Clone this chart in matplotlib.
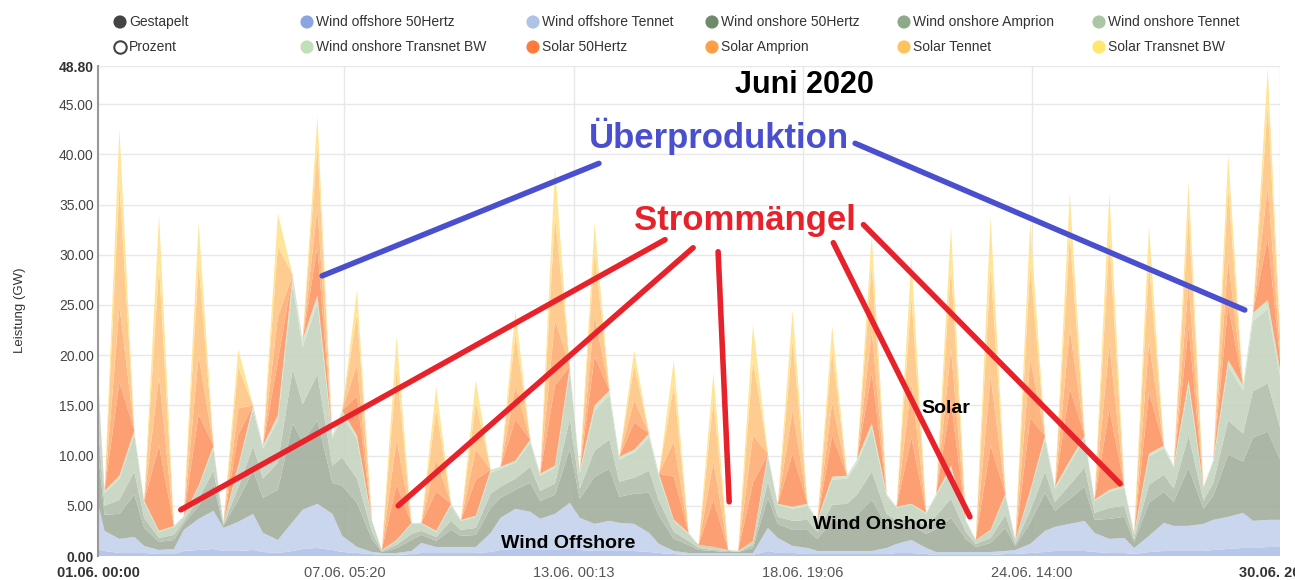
import matplotlib.pyplot as plt
import numpy as np

plt.rcParams['font.family'] = ['Liberation Sans', 'DejaVu Sans']

# sample times: 01.06. 00:00, then 04:00 / 13:00 / 22:00 for every day of June
hours = [0] + [24 * d + h for d in range(30) for h in (4, 13, 22)]

# wind (GW) at those times
wind_off_50hertz = [
    0.7,
    0.5, 0.3, 0.3, 0.3, 0.2, 0.2, 0.5, 0.6, 0.7, 0.5, 0.5, 0.6, 0.4, 0.3, 0.5,
    0.7, 0.8, 0.6, 0.4, 0.3, 0.2, 0.1, 0.1, 0.2, 0.3, 0.3, 0.3, 0.3, 0.3, 0.4,
    0.6, 0.7, 0.7, 0.6, 0.6, 0.8, 0.6, 0.5, 0.5, 0.5, 0.5, 0.4, 0.3, 0.2, 0.1,
    0.1, 0.1, 0.1, 0.1, 0.1, 0.5, 0.3, 0.3, 0.2, 0.2, 0.2, 0.2, 0.2, 0.2, 0.2,
    0.3, 0.3, 0.2, 0.1, 0.1, 0.1, 0.1, 0.1, 0.2, 0.2, 0.3, 0.4, 0.5, 0.5, 0.5,
    0.4, 0.3, 0.3, 0.2, 0.4, 0.5, 0.5, 0.5, 0.5, 0.6, 0.7, 0.8, 0.8, 0.9, 0.9]
wind_off_tennet = [
    4.5,
    2.0, 1.4, 1.6, 0.7, 0.4, 0.5, 2.1, 3.1, 3.8, 2.3, 2.9, 3.6, 1.9, 1.3, 2.9,
    3.9, 4.4, 3.6, 1.6, 0.6, 0.2, 0.2, 0.2, 0.3, 1.0, 0.6, 0.6, 0.6, 0.6, 1.9,
    3.2, 4.0, 3.7, 3.1, 3.6, 4.5, 3.2, 2.7, 3.0, 2.8, 2.7, 1.9, 0.9, 0.3, 0.2,
    0.2, 0.2, 0.2, 0.2, 0.2, 2.3, 1.5, 0.7, 0.6, 0.3, 0.3, 0.3, 0.3, 0.3, 0.6,
    0.9, 1.3, 0.6, 0.3, 0.3, 0.3, 0.3, 0.3, 0.3, 0.4, 0.9, 2.1, 2.4, 2.7, 3.0,
    1.9, 1.4, 1.5, 0.6, 1.6, 2.8, 2.5, 2.5, 2.7, 3.0, 3.2, 3.5, 2.7, 2.7, 2.7]
wind_on_50hertz = [
    5.1,
    1.6, 2.5, 4.2, 1.8, 0.8, 0.9, 0.6, 1.3, 2.6, 0.2, 2.2, 4.3, 3.5, 5.0, 9.8,
    6.8, 8.3, 3.1, 5.0, 4.4, 1.3, 0.1, 0.5, 1.1, 0.8, 0.6, 1.7, 1.1, 1.2, 2.5,
    2.0, 1.9, 2.9, 1.8, 1.9, 5.4, 1.9, 4.7, 5.2, 2.6, 3.0, 4.0, 2.8, 1.2, 0.8,
    0.3, 0.2, 0.1, 0.1, 0.5, 3.0, 1.4, 1.6, 1.8, 1.2, 3.0, 3.0, 3.6, 5.1, 2.2,
    1.5, 1.4, 1.4, 2.3, 3.4, 1.3, 0.5, 0.9, 2.3, 0.4, 2.1, 3.8, 1.6, 2.5, 3.4,
    1.3, 2.0, 2.1, 0.6, 3.3, 3.1, 2.4, 5.8, 1.5, 2.4, 6.2, 5.1, 8.3, 8.8, 5.4]
wind_on_amprion = [
    2.8,
    0.9, 1.4, 2.3, 1.0, 0.4, 0.5, 0.3, 0.7, 1.4, 0.1, 1.2, 2.4, 1.9, 2.7, 5.4,
    3.7, 4.6, 1.7, 2.8, 2.4, 0.7, 0.1, 0.3, 0.6, 0.4, 0.4, 0.9, 0.6, 0.7, 1.4,
    1.1, 1.1, 1.6, 1.0, 1.1, 3.0, 1.0, 2.6, 2.9, 1.5, 1.6, 2.2, 1.5, 0.7, 0.4,
    0.2, 0.1, 0.1, 0.0, 0.3, 1.6, 0.7, 0.9, 1.0, 0.7, 1.6, 1.7, 2.0, 2.8, 1.2,
    0.8, 0.8, 0.8, 1.3, 1.9, 0.7, 0.3, 0.5, 1.3, 0.2, 1.2, 2.1, 0.9, 1.4, 1.9,
    0.7, 1.1, 1.1, 0.3, 1.8, 1.7, 1.3, 3.2, 0.8, 1.3, 3.4, 2.8, 4.6, 4.8, 2.9]
wind_on_tennet = [
    4.4,
    1.3, 2.1, 3.7, 1.5, 0.6, 0.8, 0.4, 1.2, 2.2, 0.2, 2.0, 3.7, 3.0, 4.2, 8.4,
    5.7, 7.1, 2.7, 4.2, 3.9, 1.1, 0.1, 0.4, 1.0, 0.7, 0.5, 1.5, 0.9, 1.1, 2.1,
    1.8, 1.6, 2.4, 1.5, 1.6, 4.7, 1.6, 4.0, 4.4, 2.2, 2.5, 3.3, 2.4, 1.1, 0.7,
    0.3, 0.3, 0.1, 0.1, 0.4, 2.5, 1.2, 1.2, 1.4, 1.1, 2.5, 2.5, 3.1, 4.3, 1.8,
    1.3, 1.3, 1.2, 2.0, 3.0, 1.1, 0.4, 0.7, 1.9, 0.4, 1.8, 3.2, 1.3, 2.1, 2.9,
    1.2, 1.6, 1.8, 0.5, 2.8, 2.6, 2.1, 4.9, 1.3, 2.1, 5.4, 4.3, 7.0, 7.4, 4.6]
wind_on_transnetbw = [
    0.5,
    0.2, 0.3, 0.4, 0.2, 0.1, 0.1, 0.1, 0.1, 0.3, 0.0, 0.2, 0.4, 0.3, 0.5, 1.0,
    0.7, 0.8, 0.3, 0.5, 0.4, 0.1, 0.0, 0.1, 0.1, 0.1, 0.1, 0.2, 0.1, 0.1, 0.3,
    0.2, 0.2, 0.3, 0.2, 0.2, 0.5, 0.2, 0.5, 0.5, 0.3, 0.3, 0.4, 0.3, 0.1, 0.1,
    0.0, 0.0, 0.0, 0.0, 0.0, 0.3, 0.1, 0.2, 0.2, 0.1, 0.3, 0.3, 0.4, 0.5, 0.2,
    0.1, 0.1, 0.1, 0.2, 0.3, 0.1, 0.0, 0.1, 0.2, 0.0, 0.2, 0.4, 0.2, 0.3, 0.3,
    0.1, 0.2, 0.2, 0.1, 0.3, 0.3, 0.2, 0.6, 0.1, 0.2, 0.6, 0.5, 0.8, 0.9, 0.5]

# solar midday value per day (GW), zero at 04:00 and 22:00
solar_50hertz = [9.3, 8.5, 7.1, 3.1, 5.4, 4.8, 3.9, 5.5, 3.9, 3.6, 4.1, 8.0, 4.9, 2.7, 4.3,
                 4.7, 5.8, 5.3, 4.1, 5.1, 6.6, 6.4, 8.4, 7.2, 7.2, 8.0, 6.1, 5.3, 5.5, 6.2]
solar_amprion = [7.6, 6.9, 5.8, 2.6, 4.4, 3.9, 3.2, 4.5, 3.2, 3.0, 3.3, 6.5, 4.0, 2.2, 3.5,
                 3.8, 4.7, 4.3, 3.3, 4.1, 5.4, 5.2, 6.9, 5.9, 5.9, 6.5, 5.0, 4.4, 4.5, 5.1]
solar_tennet = [12.1, 11.0, 9.2, 4.1, 7.0, 6.2, 5.1, 7.1, 5.0, 4.7, 5.2, 10.4, 6.4, 3.5, 5.6,
                6.1, 7.5, 6.9, 5.2, 6.6, 8.6, 8.3, 10.9, 9.4, 9.3, 10.4, 7.9, 6.9, 7.2, 8.1]
solar_transnetbw = [5.6, 5.1, 4.1, 1.8, 3.3, 2.9, 2.3, 3.2, 2.3, 2.2, 2.4, 4.8, 2.9, 1.5, 2.5,
                    2.7, 3.5, 3.1, 2.4, 3.0, 3.9, 3.9, 5.0, 4.3, 4.3, 4.7, 3.6, 3.2, 3.3, 3.7]

labels = ['Wind offshore 50Hertz', 'Wind offshore Tennet', 'Wind onshore 50Hertz',
          'Wind onshore Amprion', 'Wind onshore Tennet', 'Wind onshore Transnet BW',
          'Solar 50Hertz', 'Solar Amprion', 'Solar Tennet', 'Solar Transnet BW']
# legend dots are saturated, the areas themselves are washed out
colors = ['#8aa6e0', '#afc3e6', '#6f8a6a', '#8ea889', '#abc6a4', '#c0dfba',
          '#ff7b3b', '#ff9e45', '#ffc35e', '#ffe86c']
fill_colors = ['#b3c4ea', '#c7d4ed', '#a7b2a2', '#b5c1b0', '#c9d6c3', '#d3e4cd',
               '#fc9b6c', '#fdb27b', '#fec98a', '#ffe494']

tick_days = [0, 6.2222, 12.009, 17.7958, 23.5833, 29.85]
tick_labels = ['01.06. 00:00', '07.06. 05:20', '13.06. 00:13', '18.06. 19:06',
               '24.06. 14:00', '30.06. 20:24']


def day_profile(peaks):
    return [0.0] + [v for p in peaks for v in (0.0, p, 0.0)]


x = np.array(hours) / 24.0
layers = [wind_off_50hertz, wind_off_tennet, wind_on_50hertz, wind_on_amprion,
          wind_on_tennet, wind_on_transnetbw,
          day_profile(solar_50hertz), day_profile(solar_amprion),
          day_profile(solar_tennet), day_profile(solar_transnetbw)]

fig = plt.figure(figsize=(12.95, 5.8), dpi=100)
ax = fig.add_axes([98 / 1295, 1 - 556 / 580, (1280 - 98) / 1295, (556 - 66) / 580])
ax.stackplot(x, np.array(layers), colors=fill_colors, alpha=0.95, linewidth=0)

ax.set_xlim(0, 29.85)
ax.set_ylim(0, 48.8)
yt = [0, 5, 10, 15, 20, 25, 30, 35, 40, 45, 48.8]
ax.set_yticks(yt)
ax.set_yticklabels(['%.2f' % v for v in yt], fontsize=10, color='#444')
ax.set_xticks(tick_days)
ax.set_xticklabels(tick_labels, fontsize=10.5, color='#555')
for lbls in (ax.get_yticklabels(), ax.get_xticklabels()):
    for l in (lbls[0], lbls[-1]):
        l.set_fontweight('bold')
        l.set_color('#333')
ax.tick_params(axis='both', length=0)
ax.tick_params(axis='y', pad=3)
ax.tick_params(axis='x', pad=7)
ax.set_axisbelow(True)
ax.grid(axis='y', color='#e8e8e8', lw=1)
ax.grid(axis='x', color='#e8e8e8', lw=1)
for s in ['top', 'right', 'bottom']:
    ax.spines[s].set_visible(False)
ax.spines['left'].set_color('#999')
ax.spines['left'].set_linewidth(1.5)

fig.text(20 / 1295, 1 - 310 / 580, 'Leistung (GW)', rotation=90, ha='center', va='center',
         fontsize=9.5, color='#333')

# hand drawn annotations
blue = '#4a4fd0'
red = '#e8222b'
for (x0, y0), (x1, y1) in [((5.66, 27.9), (12.65, 39.1)), ((19.12, 41.1), (28.96, 24.5))]:
    ax.plot([x0, x1], [y0, y1], color=blue, lw=4, solid_capstyle='round', zorder=5, clip_on=False)
for (x0, y0), (x1, y1) in [((2.09, 4.6), (14.32, 31.5)), ((7.58, 5.0), (15.03, 30.7)),
                           ((15.66, 30.3), (15.94, 5.4)), ((18.57, 31.2), (22.02, 3.9)),
                           ((19.33, 33.0), (25.81, 7.2))]:
    ax.plot([x0, x1], [y0, y1], color=red, lw=4, solid_capstyle='round', zorder=5, clip_on=False)

ax.text(17.85, 46.9, 'Juni 2020', ha='center', va='center', fontsize=22, fontweight='bold',
        color='black', zorder=6)
ax.text(15.68, 41.8, 'Überproduktion', ha='center', va='center', fontsize=25, fontweight='bold',
        color=blue, zorder=6)
ax.text(16.34, 33.4, 'Strommängel', ha='center', va='center', fontsize=25, fontweight='bold',
        color=red, zorder=6)
ax.text(21.41, 14.7, 'Solar', ha='center', va='center', fontsize=14, fontweight='bold', zorder=6)
ax.text(19.75, 3.1, 'Wind Onshore', ha='center', va='center', fontsize=14, fontweight='bold', zorder=6)
ax.text(11.87, 1.2, 'Wind Offshore', ha='center', va='center', fontsize=14, fontweight='bold', zorder=6)

# legend drawn in pixel space
leg = fig.add_axes([0, 0, 1, 1], facecolor='none')
leg.set_xlim(0, 1295)
leg.set_ylim(580, 0)
leg.axis('off')
leg_items = [('Gestapelt', '#444444'), ('Wind offshore 50Hertz', colors[0]),
             ('Wind offshore Tennet', colors[1]), ('Wind onshore 50Hertz', colors[2]),
             ('Wind onshore Amprion', colors[3]), ('Wind onshore Tennet', colors[4]),
             ('Prozent', None), ('Wind onshore Transnet BW', colors[5]),
             ('Solar 50Hertz', colors[6]), ('Solar Amprion', colors[7]),
             ('Solar Tennet', colors[8]), ('Solar Transnet BW', colors[9])]
col_x = [120, 307, 533, 712, 904, 1099]
row_y = [22, 47]
for i, (name, c) in enumerate(leg_items):
    cx, cy = col_x[i % 6], row_y[i // 6]
    if c is None:
        leg.scatter([cx], [cy], s=80, facecolor='white', edgecolor='#444', linewidth=1.5)
    else:
        leg.scatter([cx], [cy], s=90, color=c, edgecolor='none')
    leg.text(cx + 9, cy, name, ha='left', va='center', fontsize=10, color='#333')

fig.savefig('out.png', dpi=100)
